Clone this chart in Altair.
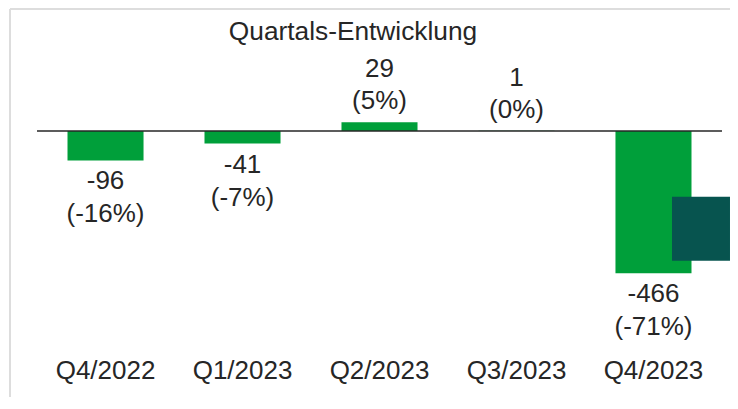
import altair as alt
import pandas as pd

quarters = ["Q4/2022", "Q1/2023", "Q2/2023", "Q3/2023", "Q4/2023"]
values = [-96, -41, 29, 1, -466]
pct_labels = ["(-16%)", "(-7%)", "(5%)", "(0%)", "(-71%)"]
title_text = "Quartals-Entwicklung"

df = pd.DataFrame({
    "q": quarters,
    "v": values,
    "l1": [str(v) for v in values],
    "l2": pct_labels,
})
df["lbl"] = [[a, b] for a, b in zip(df["l1"], df["l2"])]

W, H = 685, 296
FONT = "Liberation Sans"
TXT = "#262626"
YDOM = [-700, 270]

xs = alt.X("q:N", sort=quarters,
           scale=alt.Scale(paddingInner=0.445, paddingOuter=0.2226),
           axis=alt.Axis(title=None, domain=False, ticks=False, labelAngle=0,
                         labelFontSize=26, labelFont=FONT, labelColor=TXT,
                         labelPadding=13, labelBaseline="top"))
ys = alt.Y("v:Q", scale=alt.Scale(domain=YDOM, nice=False, zero=False), axis=None)

base = alt.Chart(df)

bars = base.mark_bar(color="#009F3A").encode(x=xs, y=ys, y2=alt.datum(0))

lab_pos = base.transform_filter("datum.v >= 0").mark_text(
    baseline="bottom", dy=-40, fontSize=26, font=FONT, color=TXT, lineHeight=32
).encode(x=xs, y=ys, text="lbl")

lab_neg = base.transform_filter("datum.v < 0").mark_text(
    baseline="top", dy=8, fontSize=26, font=FONT, color=TXT, lineHeight=33
).encode(x=xs, y=ys, text="lbl")

zero = alt.Chart(pd.DataFrame({"z": [0]})).mark_rule(color="#262626", strokeWidth=1.5).encode(
    y=alt.Y("z:Q", scale=alt.Scale(domain=YDOM, nice=False, zero=False), axis=None),
    x=alt.value(0), x2=alt.value(W))

deco = alt.Chart(pd.DataFrame({"a": [0]})).mark_rect(color="#07544F").encode(
    x=alt.value(635), x2=alt.value(693), y=alt.value(148), y2=alt.value(212))

border_top = alt.Chart(pd.DataFrame({"a": [0]})).mark_rule(color="#DDDDDD", strokeWidth=2).encode(
    x=alt.value(-27), x2=alt.value(693), y=alt.value(-39.7))
border_left = alt.Chart(pd.DataFrame({"a": [0]})).mark_rule(color="#DDDDDD", strokeWidth=2).encode(
    x=alt.value(-27), y=alt.value(-39.7), y2=alt.value(360))

title = alt.Chart(pd.DataFrame({"t": [title_text]})).mark_text(
    fontSize=26.3, font=FONT, color=TXT, baseline="alphabetic", align="center"
).encode(x=alt.value(316), y=alt.value(-8.7), text="t:N")

chart = alt.layer(border_top, border_left, bars, zero, lab_pos, lab_neg, deco, title).properties(
    width=W, height=H,
    background="white",
    autosize=alt.AutoSizeParams(type="none"),
    padding={"left": 29, "top": 40.7, "right": 8, "bottom": 52},
).configure_view(strokeWidth=0)

chart.save("out.html", embed_options={"renderer": "svg", "actions": False})
